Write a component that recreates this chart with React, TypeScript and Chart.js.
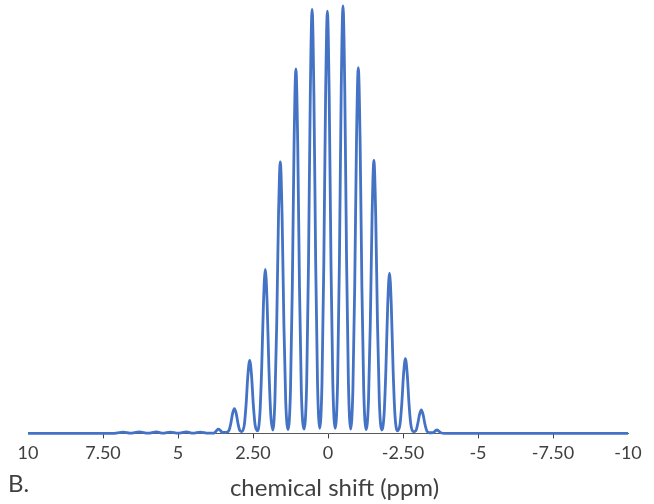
import React, { useEffect, useRef } from "react";
import { Chart, registerables } from "chart.js";

Chart.register(...registerables);

// chemical shift positions (ppm)
const shiftPpm: number[] = [
  10, 7.2, 6.82, 6.6, 6.29, 6.0, 5.72, 5.5, 5.26, 5.0, 4.72, 4.5, 4.26, 4.0, 3.85,
  3.77, 3.71, 3.65, 3.59, 3.52, 3.39,
  3.3, 3.24, 3.18, 3.12, 3.06, 3.0, 2.94, 2.87,
  2.79, 2.73, 2.67, 2.61, 2.55, 2.49, 2.43, 2.35,
  2.27, 2.21, 2.15, 2.09, 2.03, 1.97, 1.91, 1.84,
  1.77, 1.71, 1.65, 1.59, 1.53, 1.47, 1.41, 1.33,
  1.25, 1.19, 1.13, 1.07, 1.01, 0.95, 0.89, 0.8,
  0.71, 0.65, 0.59, 0.53, 0.47, 0.41, 0.35, 0.275,
  0.2, 0.14, 0.08, 0.02, -0.04, -0.1, -0.16, -0.24,
  -0.32, -0.38, -0.44, -0.5, -0.56, -0.62, -0.68, -0.755,
  -0.83, -0.89, -0.95, -1.01, -1.07, -1.13, -1.19, -1.27,
  -1.35, -1.41, -1.47, -1.53, -1.59, -1.65, -1.71, -1.79,
  -1.87, -1.93, -1.99, -2.05, -2.11, -2.17, -2.23, -2.315,
  -2.4, -2.46, -2.52, -2.58, -2.64, -2.7, -2.76, -2.845,
  -2.93, -2.99, -3.05, -3.11, -3.17, -3.23, -3.29, -3.37,
  -3.51, -3.57, -3.63, -3.69, -3.76, -3.9, -10,
];

// relative intensity (%) at each position above
const intensity: number[] = [
  0, 0, 0.3, 0.05, 0.35, 0.05, 0.35, 0.05, 0.3, 0.05, 0.35, 0.05, 0.3, 0.05, 0.05,
  0.2, 0.7, 1.0, 0.7, 0.25, 0.25,
  0.7, 2.3, 4.7, 5.8, 4.7, 2.3, 0.7, 0.45,
  2.0, 6.8, 13.7, 17.1, 13.7, 6.8, 2.0, 0.6,
  4.6, 15.4, 30.7, 38.4, 30.7, 15.4, 4.6, 0.8,
  7.6, 25.4, 50.8, 63.5, 50.8, 25.4, 7.6, 0.9,
  10.2, 34.1, 68.2, 85.3, 68.2, 34.1, 10.2, 1.0,
  11.9, 39.7, 79.4, 99.2, 79.4, 39.7, 11.9, 1.2,
  11.9, 39.5, 79.0, 98.8, 79.0, 39.5, 11.9, 1.2,
  12.0, 40.0, 80.0, 100, 80.0, 40.0, 12.0, 1.0,
  10.3, 34.2, 68.5, 85.6, 68.5, 34.2, 10.3, 0.9,
  7.7, 25.6, 51.1, 63.9, 51.1, 25.6, 7.7, 0.8,
  4.5, 15.0, 30.0, 37.5, 30.0, 15.0, 4.5, 0.6,
  2.1, 7.0, 14.0, 17.5, 14.0, 7.0, 2.1, 0.4,
  0.65, 2.2, 4.4, 5.5, 4.4, 2.2, 0.65, 0.15,
  0.2, 0.55, 0.8, 0.55, 0.15, 0, 0,
];

const tickValues: number[] = [10, 7.5, 5, 2.5, 0, -2.5, -5, -7.5, -10];
const tickLabels: string[] = ["10", "7.50", "5", "2.50", "0", "-2.50", "-5", "-7.50", "-10"];

const axisTitle = "chemical shift (ppm)";
const panelLabel = "B.";

const FONT = "Lato, 'Open Sans', sans-serif";
const TEXT = "#404040";

export default function App() {
  const ref = useRef<HTMLCanvasElement | null>(null);

  useEffect(() => {
    if (!ref.current) return;
    const points = shiftPpm.map((x, i) => ({ x, y: intensity[i] }));

    const labelPlugin = {
      id: "textLabels",
      afterDraw(chart: any) {
        const ctx = chart.ctx;
        ctx.save();
        ctx.fillStyle = TEXT;
        ctx.textBaseline = "alphabetic";
        ctx.font = `24px ${FONT}`;
        ctx.textAlign = "left";
        ctx.fillText(panelLabel, 8, 492);
        ctx.font = `24px ${FONT}`;
        ctx.textAlign = "center";
        ctx.fillText(axisTitle, 334.5, 496);
        ctx.restore();
      },
    };

    const chart = new Chart(ref.current, {
      type: "line",
      data: {
        datasets: [
          {
            data: points,
            borderColor: "#4472C4",
            borderWidth: 2.8,
            pointRadius: 0,
            fill: false,
            cubicInterpolationMode: "monotone",
            clip: false as any,
          },
        ],
      },
      options: {
        animation: false,
        responsive: false,
        layout: { padding: { left: 28, right: 26, top: 6, bottom: 36 } },
        plugins: { legend: { display: false }, tooltip: { enabled: false } },
        scales: {
          x: {
            type: "linear",
            reverse: true,
            min: -10,
            max: 10,
            afterBuildTicks: (scale: any) => {
              scale.ticks = tickValues.map((v) => ({ value: v }));
            },
            ticks: {
              autoSkip: false,
              maxRotation: 0,
              padding: 4,
              color: TEXT,
              font: { family: FONT, size: 18 },
              callback: (_v: any, i: number) => tickLabels[i],
            },
            grid: {
              display: true,
              drawOnChartArea: false,
              drawTicks: true,
              tickLength: 5,
              color: (c: any) =>
                c.tick && (c.tick.value === 10 || c.tick.value === -10)
                  ? "rgba(0,0,0,0)"
                  : "#404040",
            },
            border: { display: true, color: "#595959", width: 1 },
            title: { display: false },
          },
          y: { display: false, min: 0, max: 100 },
        },
      },
      plugins: [labelPlugin],
    });
    return () => chart.destroy();
  }, []);

  return (
    <div style={{ position: "absolute", left: 0, top: 0, width: 654, height: 504, background: "#fff" }}>
      <canvas ref={ref} width={654} height={504} />
    </div>
  );
}
